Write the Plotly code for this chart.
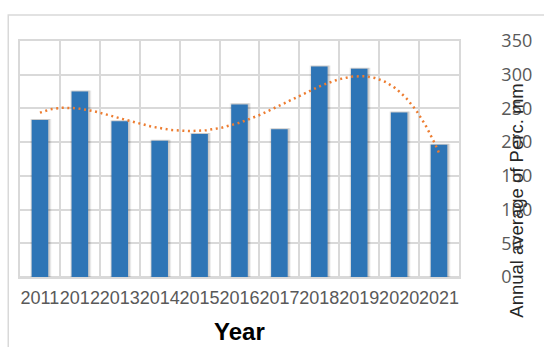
import numpy as np
import plotly.graph_objects as go

# Annual average precipitation (mm) per year
years = ["2011", "2012", "2013", "2014", "2015", "2016",
         "2017", "2018", "2019", "2020", "2021"]
precip = [233, 275, 231, 202, 212, 256, 219, 312, 309, 244, 196]
y_ticks = [0, 50, 100, 150, 200, 250, 300, 350]

W, H = 544, 347
L, R, T, B = 20, 75, 41, 70

xpos = np.arange(len(years))

# Polynomial trend line through the yearly values
coef = np.polyfit(xpos, precip, 4)
xs = np.linspace(xpos[0], xpos[-1], 200)
trend = np.polyval(coef, xs)

bar_w = 0.415
fig = go.Figure()

# soft drop shadow behind the bars
for grow, alpha in [(0.12, 0.05), (0.08, 0.07), (0.04, 0.09)]:
    fig.add_trace(go.Bar(
        x=xpos, y=[v + 1.5 for v in precip],
        width=bar_w + grow, offset=-(bar_w + grow) / 2 + 0.02,
        marker=dict(color=f"rgba(0,0,0,{alpha})", line=dict(width=0)),
        hoverinfo="skip", showlegend=False,
    ))

fig.add_trace(go.Bar(
    x=xpos, y=precip, width=bar_w, offset=-bar_w / 2,
    marker=dict(color="#2e75b6", line=dict(width=0)),
    showlegend=False,
))

fig.add_trace(go.Scatter(
    x=xs, y=trend, mode="lines",
    line=dict(color="#ed7d31", width=2.5, dash="2px,3.6px"),
    showlegend=False,
))

grid = "#d9d9d9"
fig.update_layout(
    width=W, height=H,
    margin=dict(l=L, r=R, t=T, b=B, pad=0),
    paper_bgcolor="white", plot_bgcolor="white",
    barmode="overlay",
    xaxis=dict(
        range=[-0.5, len(years) - 0.5],
        tickmode="array", tickvals=xpos, ticktext=years,
        tickangle=0, ticks="", ticklabelstandoff=4,
        showgrid=False, zeroline=False,
        showline=True, linecolor=grid, linewidth=1.5, mirror=True,
        tickfont=dict(family="Liberation Sans, Arial", size=18, color="#595959"),
        minor=dict(tickmode="array", tickvals=list(xpos - 0.5) + [len(years) - 0.5],
                   showgrid=True, gridcolor=grid, gridwidth=1.5, ticks=""),
        fixedrange=True,
    ),
    yaxis=dict(
        side="right", range=[0, 350],
        tickmode="array", tickvals=y_ticks,
        ticks="", ticklabelstandoff=37,
        showgrid=True, gridcolor=grid, gridwidth=1.5,
        zeroline=True, zerolinecolor=grid, zerolinewidth=1.5,
        showline=True, linecolor=grid, linewidth=1.5, mirror=True,
        tickfont=dict(family="Open Sans", size=18, color="#595959"),
        fixedrange=True,
    ),
    shapes=[dict(
        type="rect", xref="paper", yref="paper",
        x0=(8 - L) / (W - L - R), x1=1.3,
        y0=-0.6, y1=(H - B - 15) / (H - T - B),
        line=dict(color=grid, width=1.5), fillcolor="rgba(0,0,0,0)",
        layer="below",
    )],
    annotations=[
        dict(text="<b>Year</b>", xref="paper", yref="paper",
             x=0.5, y=(H - B - 331) / (H - T - B),
             xanchor="center", yanchor="middle", showarrow=False,
             font=dict(family="Liberation Sans, Arial", size=24, color="black")),
        dict(text="Annual average of Perc. mm", xref="paper", yref="paper",
             x=(527 - L) / (W - L - R), y=(H - B - 201) / (H - T - B),
             xanchor="center", yanchor="middle", textangle=-90, showarrow=False,
             font=dict(family="Liberation Sans, Arial", size=18.5, color="#262626")),
    ],
)

fig.write_html("out.html")
